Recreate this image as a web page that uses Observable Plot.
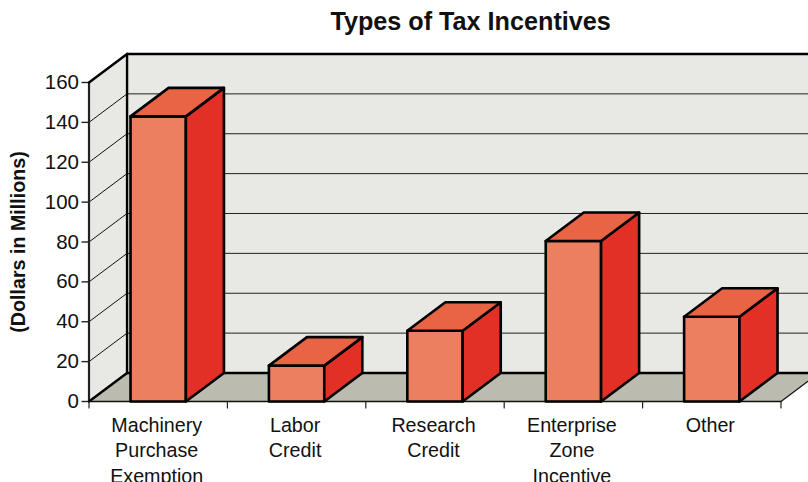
<!DOCTYPE html>
<html>
<head>
<meta charset="utf-8">
<style>html,body{margin:0;padding:0;background:#fff}</style>
<script src="https://cdn.jsdelivr.net/npm/d3@7"></script>
<script src="https://cdn.jsdelivr.net/npm/@observablehq/plot@0.6"></script>
</head>
<body>
<script>
const title = "Types of Tax Incentives";
const yLabel = "(Dollars in Millions)";
const categories = ["Machinery\nPurchase\nExemption", "Labor\nCredit", "Research\nCredit", "Enterprise\nZone\nIncentive", "Other"];
const values = [143, 18, 35.5, 80.5, 42.5];
const yTicks = [0, 20, 40, 60, 80, 100, 120, 140, 160];

// Oblique projection: how far the back plane is shifted, in scale units.
const depthX = 0.275, depthY = 14.3;
const barWidth = 0.4;
const n = categories.length, yMax = 160;

const face = (pts) => pts.map(([x, y]) => ({x, y}));
const offset = ([x, y]) => [x + depthX, y + depthY];

const bars = values.map((v, i) => ({
  x0: i + 0.5 - barWidth / 2,
  x1: i + 0.5 + barWidth / 2,
  v
}));
const polys = (make) => bars.flatMap((b, i) => make(b).map(([x, y]) => ({x, y, i})));
const fronts = polys(b => [[b.x0, 0], [b.x1, 0], [b.x1, b.v], [b.x0, b.v]]);
const sides = polys(b => [[b.x1, 0], offset([b.x1, 0]), offset([b.x1, b.v]), [b.x1, b.v]]);
const tops = polys(b => [[b.x0, b.v], [b.x1, b.v], offset([b.x1, b.v]), offset([b.x0, b.v])]);

const closed = {x: "x", y: "y", curve: "linear-closed"};
const barStroke = {stroke: "#000", strokeWidth: 2.6, strokeLinejoin: "round"};

// A straight segment between two points in data space
const seg = (a, b, style) => Plot.line(face([a, b]), {x: "x", y: "y", ...style});

const inner = yTicks.filter(t => t > 0 && t < yMax);

const chart = Plot.plot({
  width: 808,
  height: 482,
  marginLeft: 88.5,
  marginRight: 27.5,
  marginTop: 82,
  marginBottom: 81,
  style: {fontFamily: "Liberation Sans, Arial, sans-serif", color: "#111", background: "#fff"},
  x: {type: "linear", domain: [0, n], axis: null},
  y: {type: "linear", domain: [0, yMax], axis: null},
  marks: [
    // Back wall, side wall and floor
    Plot.line(face([[depthX, depthY], [n + depthX, depthY], [n + depthX, yMax + depthY], [depthX, yMax + depthY]]),
      {...closed, fill: "#e8e8e4", stroke: "none"}),
    Plot.line(face([[0, 0], [depthX, depthY], [depthX, yMax + depthY], [0, yMax]]),
      {...closed, fill: "#e8e8e4", stroke: "none"}),
    Plot.line(face([[0, 0], [n, 0], [n + depthX, depthY], [depthX, depthY]]),
      {...closed, fill: "#bbbbaf", stroke: "none"}),

    // Gridlines wrap from the side wall onto the back wall
    ...inner.map(t => seg([0, t], [depthX, t + depthY], {stroke: "#111", strokeWidth: 1})),
    ...inner.map(t => seg([depthX, t + depthY], [n + depthX, t + depthY], {stroke: "#222", strokeWidth: 1})),

    // Wall and floor outlines
    seg([depthX, depthY], [n + depthX, depthY], {stroke: "#000", strokeWidth: 2.4}),
    seg([depthX, yMax + depthY], [n + depthX, yMax + depthY], {stroke: "#000", strokeWidth: 2.4}),
    seg([depthX, depthY], [depthX, yMax + depthY], {stroke: "#000", strokeWidth: 2.4}),
    seg([0, 0], [0, yMax], {stroke: "#222", strokeWidth: 2.2}),
    seg([0, yMax], [depthX, yMax + depthY], {stroke: "#000", strokeWidth: 2.4}),
    seg([0, 0], [depthX, depthY], {stroke: "#000", strokeWidth: 2.4}),
    seg([n, 0], [n + depthX, depthY], {stroke: "#111", strokeWidth: 1.2}),
    seg([0, 0], [n, 0], {stroke: "#111", strokeWidth: 1.4}),

    // Bars
    Plot.line(fronts, {...closed, z: "i", fill: "#ec7f5f", ...barStroke}),
    Plot.line(sides, {...closed, z: "i", fill: "#e23027", ...barStroke}),
    Plot.line(tops, {...closed, z: "i", fill: "#e96345", ...barStroke}),

    // Axes
    Plot.axisY(yTicks, {
      anchor: "left", tickSize: 7, tickPadding: 3, fontSize: 20.5, label: null, stroke: "#222", strokeWidth: 1.4
    }),
    ...d3.range(n + 1).map(i => seg([i, 0], [i, -3.2], {stroke: "#222", strokeWidth: 1.2})),
    Plot.text(categories, {
      x: (d, i) => i + 0.5,
      y: () => 0,
      text: d => d,
      dx: -1.5,
      dy: 12,
      lineAnchor: "top",
      lineHeight: 1.3,
      fontSize: 19.7,
      fill: "#111"
    }),

    // Titles
    Plot.text([title], {
      x: () => 2.75, y: () => yMax, dy: -61, dx: 1, fontSize: 25.2, fontWeight: "bold", fill: "#111", lineAnchor: "middle"
    }),
    Plot.text([yLabel], {
      y: () => 80, frameAnchor: "left", dx: -70, rotate: -90, fontSize: 19.7, fontWeight: "bold", fill: "#111", textAnchor: "middle"
    })
  ]
});
document.body.append(chart);
</script>
</body>
</html>
